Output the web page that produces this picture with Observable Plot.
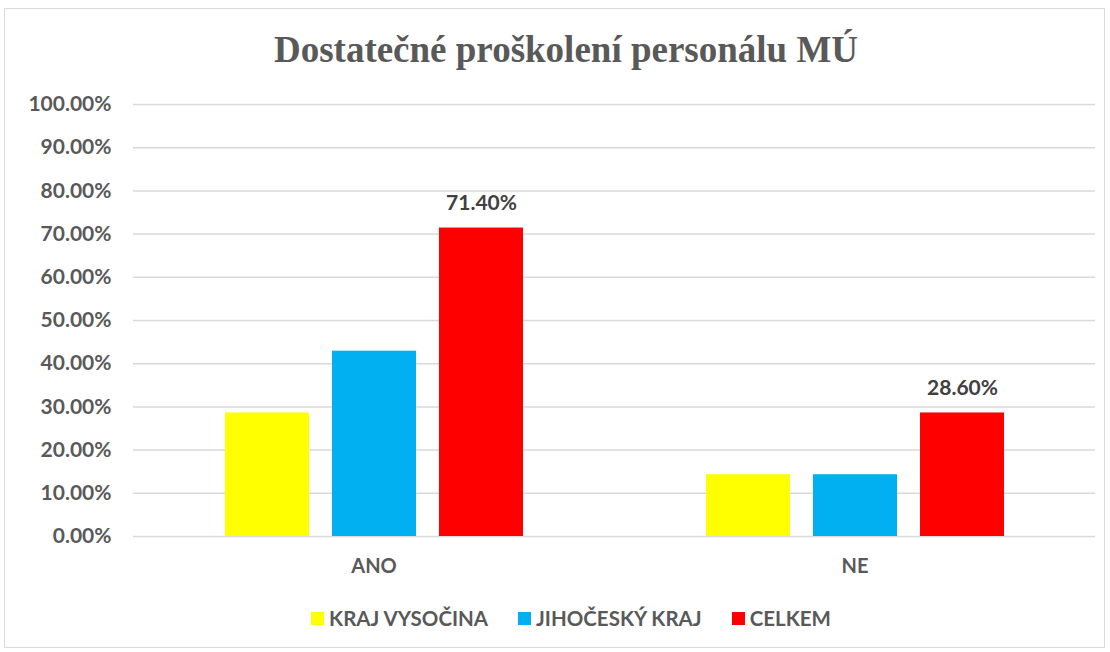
<!DOCTYPE html>
<html>
<head>
<meta charset="utf-8">
<script src="https://cdn.jsdelivr.net/npm/d3@7"></script>
<script src="https://cdn.jsdelivr.net/npm/@observablehq/plot@0.6"></script>
<style>
  html, body { margin: 0; padding: 0; background: #fff; }
  #frame { position: relative; width: 1110px; height: 652px; overflow: hidden; }
  #border { position: absolute; left: 4px; top: 8px; width: 1101px; height: 640px; border: 1px solid #d9d9d9; box-sizing: border-box; }
  #title { position: absolute; left: 0; top: 26px; width: 1132px; text-align: center; font-family: "Liberation Serif", "DejaVu Serif", serif; font-weight: bold; font-size: 37px; color: #595959; line-height: 48px; }
  #chart { position: absolute; left: 0; top: 90px; }
  #legend { position: absolute; left: 0; top: 606px; width: 1110px; display: flex; justify-content: center; gap: 30px; font-family: Lato, "Open Sans", sans-serif; font-weight: bold; font-size: 20.5px; color: #595959; padding-left: 32px; box-sizing: border-box; }
  .item { display: flex; align-items: center; gap: 5px; }
  .sw { width: 13px; height: 13px; display: inline-block; }
  #chart svg g[aria-label="y-axis tick label"] text { font-size: 21px; }
</style>
</head>
<body>
<div id="frame">
  <div id="border"></div>
  <div id="title">Dostatečné proškolení personálu MÚ</div>
  <div id="chart"></div>
  <div id="legend"></div>
</div>
<script>
const categories = ["ANO", "NE"];
const series = ["KRAJ VYSOČINA", "JIHOČESKÝ KRAJ", "CELKEM"];
const colors = ["#FFFF00", "#00B0F0", "#FF0000"];
const valuesVysocina = [28.6, 14.3];
const valuesJihocesky = [42.9, 14.3];
const valuesCelkem = [71.4, 28.6];
const yTicks = [0, 10, 20, 30, 40, 50, 60, 70, 80, 90, 100];

const seriesValues = [valuesVysocina, valuesJihocesky, valuesCelkem];
const data = [];
categories.forEach((c, ci) => {
  series.forEach((s, si) => {
    data.push({category: c, series: s, value: seriesValues[si][ci]});
  });
});

const chart = Plot.plot({
  width: 1110,
  height: 490,
  marginLeft: 133,
  marginRight: 15,
  marginTop: 14,
  marginBottom: 44,
  style: {fontFamily: "Lato, 'Open Sans', sans-serif", fontWeight: "bold", fontSize: "20px", color: "#595959", background: "transparent"},
  fx: {domain: categories, padding: 0, axis: "bottom", label: null, tickSize: 0, tickPadding: 22},
  x: {domain: series, axis: null, paddingInner: 0.215, paddingOuter: 0.84},
  y: {domain: [0, 100], ticks: yTicks, tickFormat: d => d.toFixed(2) + "%", label: null, tickSize: 0, tickPadding: 22},
  color: {domain: series, range: colors},
  marks: [
    Plot.gridY(yTicks, {stroke: "#d9d9d9", strokeOpacity: 1, strokeWidth: 1.5}),
    Plot.barY(data, {fx: "category", x: "series", y: "value", fill: "series"}),
    Plot.text(data.filter(d => d.series === "CELKEM"), {fx: "category", x: "series", y: "value", text: d => d.value.toFixed(2) + "%", dy: -25, fill: "#404040", fontSize: 21, fontWeight: "bold"})
  ]
});
document.getElementById("chart").appendChild(chart);

const legend = document.getElementById("legend");
series.forEach((s, i) => {
  const item = document.createElement("div");
  item.className = "item";
  const sw = document.createElement("span");
  sw.className = "sw";
  sw.style.background = colors[i];
  const t = document.createElement("span");
  t.textContent = s;
  item.appendChild(sw);
  item.appendChild(t);
  legend.appendChild(item);
});
</script>
</body>
</html>
